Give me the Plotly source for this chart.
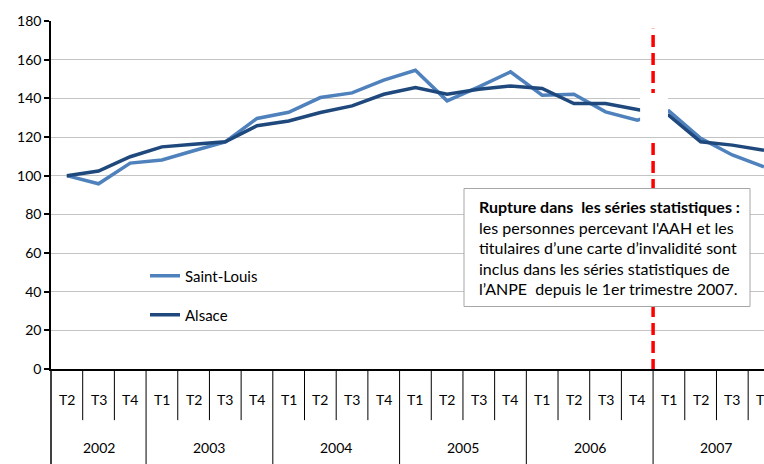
import plotly.graph_objects as go

# ---- data ----
quarters = ["T2", "T3", "T4"] + ["T1", "T2", "T3", "T4"] * 5
years = ["2002"] * 3 + ["2003"] * 4 + ["2004"] * 4 + ["2005"] * 4 + ["2006"] * 4 + ["2007"] * 4
saint_louis = [100, 95.8, 106.5, 108.1, 112.9, 117.5, 129.6, 132.8, 140.4, 142.8, 149.4, 154.5,
               138.7, 145.9, 153.7, 141.6, 142.1, 133.0, 128.7, 133.5, 119.3, 110.7, 104.6]
alsace = [100, 102.4, 109.8, 114.9, 116.3, 117.5, 125.8, 128.3, 132.7, 136.1, 142.1, 145.6,
          142.1, 144.7, 146.4, 145.1, 137.3, 137.3, 134.2, 131.2, 117.5, 115.8, 113.2]
y_ticks = [0, 20, 40, 60, 80, 100, 120, 140, 160, 180]
break_index = 19  # first quarter after the statistical break (T1 2007)

labels = [f"{q} {y}" for q, y in zip(quarters, years)]

FONT = "Lato, Carlito, 'Liberation Sans', sans-serif"
W, H = 764, 464
ML, MR, MT, MB = 51, 0, 21, 95
PW, PH = W - ML - MR, H - MT - MB


def px_x(px):
    return (px - ML) / PW


def px_y(py):
    return (H - MB - py) / PH


fig = go.Figure()
fig.add_trace(go.Scatter(x=labels, y=saint_louis, mode="lines", name="Saint-Louis",
                         line=dict(color="#4f81bd", width=3.5), legend="legend"))
fig.add_trace(go.Scatter(x=labels, y=alsace, mode="lines", name="Alsace",
                         line=dict(color="#1f497d", width=3.5), legend="legend2"))

shapes = []
annotations = []

# category dividers under the x axis
for i in range(len(quarters)):
    new_year = i == 0 or years[i] != years[i - 1]
    y1 = -0.273 if new_year else -0.147
    if i == 0:
        shapes.append(dict(type="line", xref="paper", yref="paper", x0=0, x1=0, y0=0, y1=y1,
                           line=dict(color="black", width=1.5)))
    else:
        shapes.append(dict(type="line", xref="x", yref="paper", x0=i - 0.5, x1=i - 0.5, y0=0, y1=y1,
                           line=dict(color="black", width=1)))

# quarter labels
for i, q in enumerate(quarters):
    annotations.append(dict(x=min(i, len(quarters) - 1.001), xref="x", y=-0.089, yref="paper",
                            text=q, showarrow=False, font=dict(family=FONT, size=14, color="black"),
                            xanchor="center", yanchor="middle"))

# year labels
seen = []
for y in years:
    if y not in seen:
        seen.append(y)
for yr in seen:
    idx = [i for i, v in enumerate(years) if v == yr]
    annotations.append(dict(x=sum(idx) / len(idx), xref="x", y=-0.227, yref="paper",
                            text=yr, showarrow=False, font=dict(family=FONT, size=14, color="black"),
                            xanchor="center", yanchor="middle"))

# red dashed break line
bx = break_index - 0.5
shapes.append(dict(type="line", xref="x", yref="y", x0=bx, x1=bx, y0=-1, y1=176,
                   line=dict(color="#ff0000", width=3.5, dash="12px,6px"), layer="above"))
# white patch hiding the lines at the break
shapes.append(dict(type="rect", xref="x", yref="y", x0=bx - 0.41, x1=bx + 0.47, y0=120, y1=142.7,
                   fillcolor="white", line=dict(width=0), layer="above"))
# text box
shapes.append(dict(type="rect", xref="paper", yref="paper", x0=px_x(464), x1=px_x(750),
                   y0=px_y(306.5), y1=px_y(188.5), fillcolor="white",
                   line=dict(color="#a6a6a6", width=1), layer="above"))

box_lines = [
    ("<b>Rupture dans  les séries statistiques :</b>", 206.7),
    ("les personnes percevant l'AAH et les", 227.2),
    ("titulaires d’une carte d’invalidité sont", 247.6),
    ("inclus dans les séries statistiques de", 268.0),
    ("l’ANPE  depuis le 1er trimestre 2007.", 288.4),
]
for txt, py in box_lines:
    annotations.append(dict(x=px_x(476.5), xref="paper", y=px_y(py), yref="paper", text=txt,
                            showarrow=False, xanchor="left", yanchor="middle", align="left",
                            font=dict(family=FONT, size=16, color="black")))

fig.update_layout(
    width=W, height=H,
    margin=dict(l=ML, r=MR, t=MT, b=MB, pad=0),
    paper_bgcolor="white", plot_bgcolor="white",
    font=dict(family=FONT, size=14, color="black"),
    showlegend=True,
    legend=dict(x=px_x(145), y=px_y(276), xanchor="left", yanchor="middle",
                bgcolor="rgba(0,0,0,0)", font=dict(family=FONT, size=15)),
    legend2=dict(x=px_x(145), y=px_y(315), xanchor="left", yanchor="middle",
                 bgcolor="rgba(0,0,0,0)", font=dict(family=FONT, size=15)),
    xaxis=dict(type="category", range=[-0.5, len(quarters) - 1], showticklabels=False,
               ticks="", showgrid=False, showline=True, linecolor="black", linewidth=2,
               zeroline=False, fixedrange=True),
    yaxis=dict(range=[0, 180], tickvals=y_ticks, showgrid=True, gridcolor="#c4c4c4",
               gridwidth=1, showline=True, linecolor="black", linewidth=1.5,
               ticks="outside", ticklen=5, tickcolor="black", tickwidth=1.5,
               tickfont=dict(family=FONT, size=14, color="black"), zeroline=False),
    shapes=shapes,
    annotations=annotations,
)

fig.write_html("out.html", config={"displayModeBar": False},
               post_script="document.body.style.margin='0';document.body.style.overflow='hidden';")
